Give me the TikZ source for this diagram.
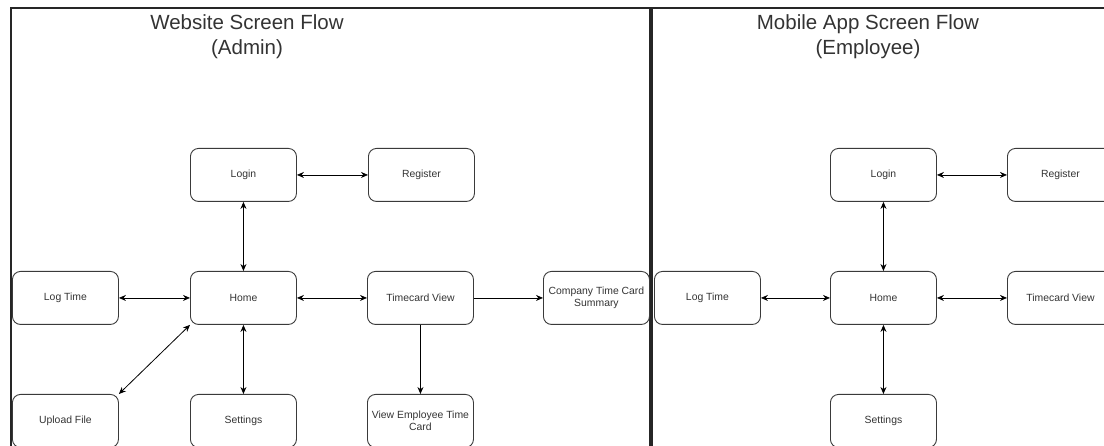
\documentclass[tikz,border=0pt]{standalone}
\usepackage{fontspec}
\setmainfont{Liberation Sans}
\usetikzlibrary{arrows.meta}
\definecolor{txt}{HTML}{333333}
\definecolor{edge}{HTML}{3A3A3A}
\begin{document}
\begin{tikzpicture}[x=1pt,y=-1pt,
  screen/.style={draw=edge,line width=0.9pt,rounded corners=8pt,minimum width=106pt,minimum height=53pt,
    inner sep=0pt,align=center,text=txt,font=\fontsize{10.4}{12.5}\selectfont,anchor=north west},
  title/.style={text=txt,align=center,font=\fontsize{20.5}{25}\selectfont},
  link/.style={line width=0.8pt,black,{Stealth[length=7pt,width=6pt]}-{Stealth[length=7pt,width=6pt]}},
  one/.style={line width=0.8pt,black,-{Stealth[length=7pt,width=6pt]}}]
\useasboundingbox (0,0) rectangle (1104,446);
\clip (0,0) rectangle (1104,446);
% frame
\coordinate (tl) at (11,8);
\coordinate (tr) at (1104,8);
\coordinate (bl) at (11,446);
\coordinate (dt) at (651,8);
\coordinate (db) at (651,446);
\draw[line width=1.6pt,black!85] (bl) -- (tl) -- (tr);
\draw[line width=3.2pt,black!85] (dt) -- (db);
% titles
\node[title] (t1) at (247,37) {Website Screen Flow\\(Admin)};
\node[title] (t2) at (868,37) {Mobile App Screen Flow\\(Employee)};
% left panel
\node[screen] (login) at (190,148) {Login};
\node[screen] (reg) at (368,148) {Register};
\node[screen] (log) at (12,271) {Log Time};
\node[screen] (home) at (190,271) {Home};
\node[screen] (tcv) at (367,271) {Timecard View};
\node[screen] (comp) at (543,271) {Company Time Card\\Summary};
\node[screen] (up) at (12,394) {Upload File};
\node[screen] (set) at (190,394) {Settings};
\node[screen] (emp) at (367,394) {View Employee Time\\Card};
\draw[link] (login) -- (reg);
\draw[link] (login) -- (home);
\draw[link] (log) -- (home);
\draw[link] (home) -- (tcv);
\draw[link] (up.north east) -- (home.south west);
\draw[link] (home) -- (set);
\draw[one] (tcv) -- (comp);
\draw[one] (tcv) -- (emp);
% right panel
\node[screen] (rlogin) at (830,148) {Login};
\node[screen] (rreg) at (1007,148) {Register};
\node[screen] (rlog) at (654,271) {Log Time};
\node[screen] (rhome) at (830,271) {Home};
\node[screen] (rtcv) at (1007,271) {Timecard View};
\node[screen] (rset) at (830,394) {Settings};
\draw[link] (rlogin) -- (rreg);
\draw[link] (rlogin) -- (rhome);
\draw[link] (rlog) -- (rhome);
\draw[link] (rhome) -- (rtcv);
\draw[link] (rhome) -- (rset);
\end{tikzpicture}
\end{document}
